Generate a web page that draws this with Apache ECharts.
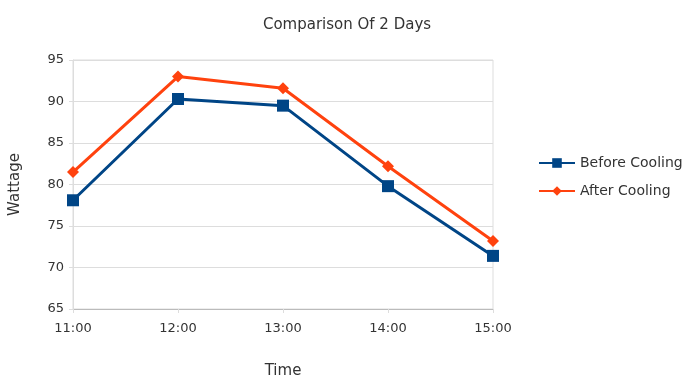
<!DOCTYPE html>
<html>
<head>
<meta charset="utf-8">
<script src="https://cdn.jsdelivr.net/npm/echarts@6/dist/echarts.min.js"></script>
<style>
html,body{margin:0;padding:0;background:#fff;}
#chart{width:690px;height:378px;}
</style>
</head>
<body>
<div id="chart"></div>
<script>
const times = ["11:00", "12:00", "13:00", "14:00", "15:00"];
const beforeCooling = [78.1, 90.3, 89.5, 79.8, 71.4];
const afterCooling = [81.5, 93.0, 91.6, 82.2, 73.2];

const chart = echarts.init(document.getElementById("chart"));

chart.setOption({
    animation:false,
    textStyle:{
        fontFamily:"DejaVu Sans"
    },
    title:{
        text:"Comparison Of 2 Days",
        left:342,
        top:13,
        textAlign:"center",
        textStyle:{
            fontSize:15,
            fontWeight:"normal",
            color:"#333"
        }
    },
    legend:{
        orient:"vertical",
        left:533,
        top:151,
        itemGap:14,
        itemWidth:36,
        itemHeight:12,
        textStyle:{
            fontSize:14,
            color:"#333"
        },
        data:["Before Cooling", "After Cooling"]
    },
    grid:{
        left:73,
        right:197,
        top:60,
        bottom:69,
        outerBoundsMode:"none",
        containLabel:false,
        show:true,
        borderColor:"#ddd",
        borderWidth:1
    },
    xAxis:{
        type:"category",
        data:times,
        boundaryGap:false,
        name:"Time",
        nameLocation:"middle",
        nameGap:55,
        nameTextStyle:{
            fontSize:15,
            color:"#333"
        },
        axisLine:{
            lineStyle:{
                color:"#bbb"
            }
        },
        axisTick:{
            show:true,
            length:4,
            lineStyle:{
                color:"#ddd"
            }
        },
        axisLabel:{
            fontSize:13,
            color:"#333",
            margin:13
        },
        splitLine:{
            show:false
        }
    },
    yAxis:{
        type:"value",
        min:65,
        max:95,
        interval:5,
        name:"Wattage",
        nameLocation:"middle",
        nameGap:50,
        nameTextStyle:{
            fontSize:15,
            color:"#333"
        },
        axisLine:{
            show:true,
            lineStyle:{
                color:"#ddd"
            }
        },
        axisTick:{
            show:true,
            length:4,
            lineStyle:{
                color:"#ddd"
            }
        },
        axisLabel:{
            fontSize:13,
            color:"#333",
            margin:9
        },
        splitLine:{
            lineStyle:{
                color:"#ddd"
            }
        }
    },
    series:[
        {
            name:"Before Cooling",
            type:"line",
            data:beforeCooling,
            symbol:"rect",
            symbolSize:12,
            itemStyle:{
                color:"#004586"
            },
            lineStyle:{
                width:3,
                color:"#004586"
            }
        },
        {
            name:"After Cooling",
            type:"line",
            data:afterCooling,
            symbol:"diamond",
            symbolSize:12,
            itemStyle:{
                color:"#ff420e"
            },
            lineStyle:{
                width:3,
                color:"#ff420e"
            }
        }
    ]
});
</script>
</body>
</html>
